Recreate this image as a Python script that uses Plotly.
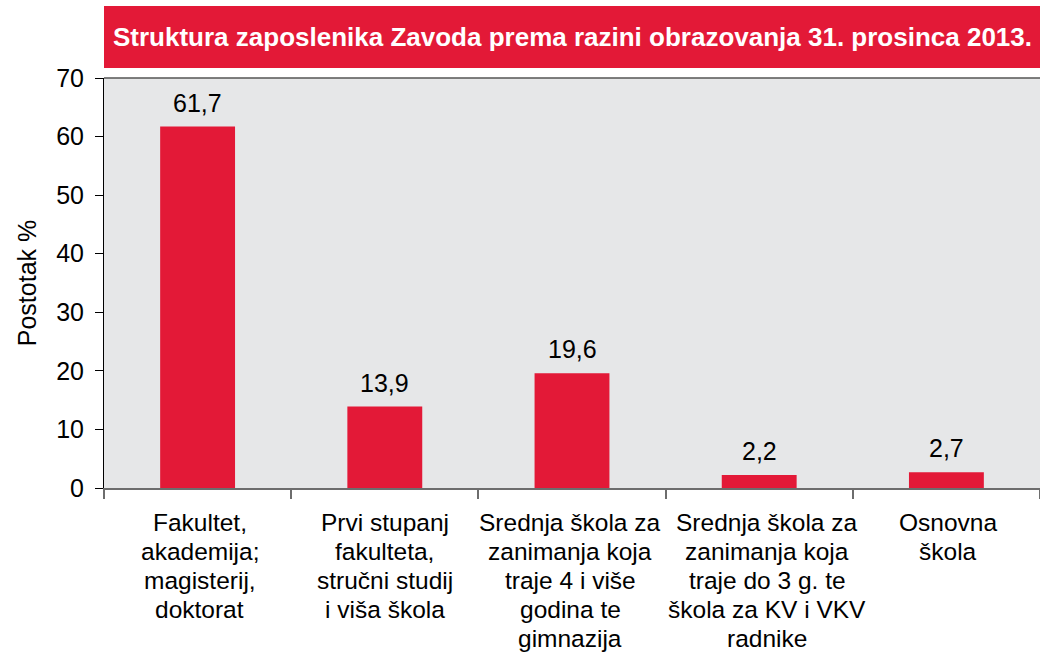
import plotly.graph_objects as go

categories = [
    "Fakultet,<br>akademija;<br>magisterij,<br>doktorat",
    "Prvi stupanj<br>fakulteta,<br>stručni studij<br>i viša škola",
    "Srednja škola za<br>zanimanja koja<br>traje 4 i više<br>godina te<br>gimnazija",
    "Srednja škola za<br>zanimanja koja<br>traje do 3 g. te<br>škola za KV i VKV<br>radnike",
    "Osnovna<br>škola",
]
values = [61.7, 13.9, 19.6, 2.2, 2.7]
y_ticks = [0, 10, 20, 30, 40, 50, 60, 70]
title_text = "Struktura zaposlenika Zavoda prema razini obrazovanja 31. prosinca 2013."
y_title = "Postotak %"

RED = "#E31937"
FONT = "Liberation Sans, Arial, sans-serif"

fig = go.Figure(go.Bar(
    x=categories, y=values,
    marker=dict(color=RED, line=dict(width=0)),
    width=0.40, hoverinfo="skip",
))

W, H = 1040, 657
L, T, R = 104, 78, 0
B = H - 488
ph = H - T - B

def py(pix):
    return ((H - B) - pix) / ph

annotations = [
    dict(text=f"{v:.1f}".replace(".", ","), x=c, y=v, xref="x", yref="y",
         xanchor="center", yanchor="bottom", yshift=8, showarrow=False,
         font=dict(size=25, color="black", family=FONT))
    for c, v in zip(categories, values)
]

# category labels, one line each, with the reference's tighter line spacing
LABEL_SIZE = 24.5
LINE_GAP = 29.2
FIRST = 34
label_xshift = [2, 0, -2, 8, 2]
for c, dx in zip(categories, label_xshift):
    for i, line in enumerate(c.split("<br>")):
        annotations.append(dict(
            text=line, x=c, y=0, xref="x", yref="y",
            xanchor="center", yanchor="middle", yshift=-(FIRST + LINE_GAP * i),
            xshift=dx,
            showarrow=False, font=dict(size=LABEL_SIZE, color="black", family=FONT)))

annotations.append(
    dict(text="<b>" + title_text + "</b>", xref="paper", yref="paper",
         x=0.5, y=py(37), xanchor="center", yanchor="middle", showarrow=False,
         font=dict(size=26, color="white", family=FONT))
)

fig.update_layout(
    width=W, height=H,
    margin=dict(l=L, r=R, t=T, b=B, pad=0, autoexpand=False),
    paper_bgcolor="white", plot_bgcolor="#E6E7E8",
    showlegend=False,
    font=dict(family=FONT, size=25, color="black"),
    xaxis=dict(
        type="category", tickson="boundaries", ticks="outside", ticklen=9,
        tickcolor="#6d6d6d", tickwidth=1.5, automargin=False,
        showline=True, linecolor="#6d6d6d", linewidth=2,
        showgrid=False, showticklabels=False,
    ),
    yaxis=dict(
        range=[0, 70], tickvals=y_ticks, ticks="outside", ticklen=8,
        tickcolor="black", tickwidth=1, automargin=False,
        showline=True, linecolor="black", linewidth=1,
        showgrid=False, zeroline=False,
        tickfont=dict(size=25, color="black"),
        ticklabelstandoff=6,
        title=dict(text=y_title, font=dict(size=25), standoff=12),
    ),
    shapes=[
        dict(type="rect", xref="paper", yref="paper", x0=0, x1=1,
             y0=py(68), y1=py(6), fillcolor=RED, line=dict(width=0), layer="above"),
        dict(type="line", xref="paper", yref="paper", x0=0, x1=1, y0=1, y1=1,
             line=dict(color="#555555", width=1.5)),
    ],
    annotations=annotations,
)

fig.write_html(
    "out.html",
    config={"responsive": False, "displayModeBar": False},
    post_script="document.body.style.margin='0';document.body.style.overflow='hidden';",
)
